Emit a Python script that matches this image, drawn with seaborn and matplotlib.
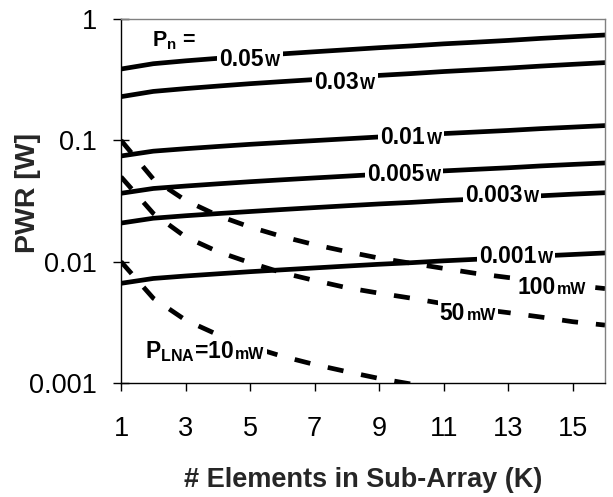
import matplotlib
matplotlib.use("Agg")
import matplotlib.pyplot as plt
import numpy as np
import pandas as pd
import seaborn as sns
from matplotlib.offsetbox import TextArea, HPacker, AnnotationBbox
from matplotlib.ticker import FixedLocator, FixedFormatter, NullLocator

# ---------------- data ----------------
K = list(range(1, 17))

pn_005 = [0.387, 0.428, 0.452, 0.474, 0.496, 0.516, 0.537, 0.558, 0.580, 0.600, 0.624, 0.644, 0.666, 0.692, 0.715, 0.738]
pn_003 = [0.229, 0.253, 0.267, 0.280, 0.293, 0.305, 0.317, 0.330, 0.343, 0.355, 0.369, 0.381, 0.394, 0.409, 0.423, 0.437]
pn_001 = [0.0743, 0.0814, 0.0853, 0.0890, 0.0927, 0.0961, 0.0995, 0.1030, 0.1066, 0.1099, 0.1137, 0.1171, 0.1206, 0.1248, 0.1285, 0.1323]
pn_0005 = [0.0366, 0.0401, 0.0420, 0.0438, 0.0456, 0.0473, 0.0490, 0.0507, 0.0525, 0.0541, 0.0560, 0.0577, 0.0594, 0.0615, 0.0633, 0.0651]
pn_0003 = [0.0208, 0.0228, 0.0239, 0.0249, 0.0259, 0.0269, 0.0279, 0.0289, 0.0299, 0.0308, 0.0319, 0.0328, 0.0338, 0.0349, 0.0360, 0.0370]
pn_0001 = [0.00663, 0.00727, 0.00762, 0.00794, 0.00827, 0.00857, 0.00888, 0.00920, 0.00952, 0.00981, 0.01016, 0.01046, 0.01076, 0.01114, 0.01146, 0.01180]

lna_100 = [0.1, 0.048, 0.032, 0.024, 0.0193, 0.0161, 0.0138, 0.0121, 0.0107, 0.0097, 0.0088, 0.0080, 0.0074, 0.0069, 0.0064, 0.0060]
lna_50 = [0.05, 0.025, 0.016, 0.0121, 0.0098, 0.0081, 0.0070, 0.0061, 0.0055, 0.0050, 0.0045, 0.0041, 0.0038, 0.0035, 0.0032, 0.0030]
lna_10 = [0.01, 0.005, 0.0033, 0.0025, 0.0020, 0.00166, 0.00142, 0.00124, 0.00109, 0.00098, 0.00089, 0.00081, 0.00075, 0.0007, 0.00065, 0.00061]

pn_series = [("0.05", pn_005), ("0.03", pn_003), ("0.01", pn_001),
             ("0.005", pn_0005), ("0.003", pn_0003), ("0.001", pn_0001)]
lna_series = [("100", lna_100), ("50", lna_50), ("10", lna_10)]

x_ticks = [1, 3, 5, 7, 9, 11, 13, 15]
y_ticks = [0.001, 0.01, 0.1, 1]
y_ticklabels = ["0.001", "0.01", "0.1", "1"]

x_title = "# Elements in Sub-Array (K)"
y_title = "PWR [W]"

# ---------------- style ----------------
sns.set_style("white")
plt.rcParams["font.family"] = ["Liberation Sans", "DejaVu Sans"]
plt.rcParams["mathtext.fontset"] = "custom"
plt.rcParams["mathtext.rm"] = "Liberation Sans:bold"
plt.rcParams["mathtext.it"] = "Liberation Sans:bold"
plt.rcParams["mathtext.bf"] = "Liberation Sans:bold"

rows = []
for name, vals in pn_series:
    for k, v in zip(K, vals):
        rows.append({"K": k, "PWR": v, "series": "Pn " + name, "kind": "Pn"})
for name, vals in lna_series:
    for k, v in zip(K, vals):
        rows.append({"K": k, "PWR": v, "series": "PLNA " + name, "kind": "PLNA"})
df = pd.DataFrame(rows)

fig = plt.figure(figsize=(6.13, 4.97), dpi=100)
ax = fig.add_axes([121 / 613, 1 - 383 / 497, 484 / 613, 364 / 497])

sns.lineplot(data=df, x="K", y="PWR", units="series", estimator=None,
             style="kind", style_order=["Pn", "PLNA"],
             dashes={"Pn": "", "PLNA": (3.4, 3.8)},
             color="black", linewidth=3.4, legend=False, sort=False, ax=ax)

ax.set_yscale("log")
ax.set_xlim(1, 16)
ax.set_ylim(0.001, 1)

ax.xaxis.set_major_locator(FixedLocator(x_ticks))
ax.yaxis.set_major_locator(FixedLocator(y_ticks))
ax.yaxis.set_major_formatter(FixedFormatter(y_ticklabels))
ax.yaxis.set_minor_locator(NullLocator())
ax.xaxis.set_minor_locator(NullLocator())

ax.tick_params(axis="x", which="major", direction="out", length=6, width=1,
               pad=18, labelsize=19.5, bottom=True, top=False, colors="black")
ax.tick_params(axis="y", which="major", direction="inout", length=12, width=1,
               pad=11.5, labelsize=19.5, left=True, right=False, colors="black")

for s in ["left", "bottom"]:
    ax.spines[s].set_color("black")
    ax.spines[s].set_linewidth(1)
for s in ["top", "right"]:
    ax.spines[s].set_color("#808080")
    ax.spines[s].set_linewidth(1)

ax.set_xlabel(x_title, fontsize=19.5, fontweight="bold")
ax.set_ylabel(y_title, fontsize=20.5, fontweight="bold")
ax.xaxis.set_label_coords(0.5, -0.232)
ax.yaxis.set_label_coords(-0.165, 0.522)

big = 16.5
small = 11.5
tp_big = dict(fontsize=big, fontweight="bold", color="black")
tp_small = dict(fontsize=small, fontweight="bold", color="black")


def put_label(x, y, num, unit, align=(0.5, 0.5)):
    box = HPacker(children=[TextArea(num, textprops=tp_big),
                            TextArea(unit, textprops=tp_small)],
                  align="baseline", pad=0, sep=1)
    ab = AnnotationBbox(box, (x, y), xycoords="data", frameon=True, pad=0.15,
                        box_alignment=align,
                        bboxprops=dict(facecolor="white", edgecolor="none"))
    ab.set_zorder(5)
    ax.add_artist(ab)


pn_label_pos = [(5.0, 0.468), (7.94, 0.297), (9.99, 0.1065),
                (9.77, 0.0518), (12.81, 0.0348), (13.24, 0.01113)]
for (name, _), (x, y) in zip(pn_series, pn_label_pos):
    put_label(x, y, name, "W")

put_label(14.36, 0.00618, "100", "mW")
put_label(11.75, 0.003774, "50", "mW")
put_label(1.744, 0.0018, r"P$_\mathregular{LNA}$=10", "mW", align=(0.0, 0.5))

ax.text(1.96, 0.599, r"P$_\mathregular{n}$ =", fontsize=15.5, fontweight="bold",
        ha="left", va="baseline", color="black")

fig.savefig("out.png", dpi=100)
